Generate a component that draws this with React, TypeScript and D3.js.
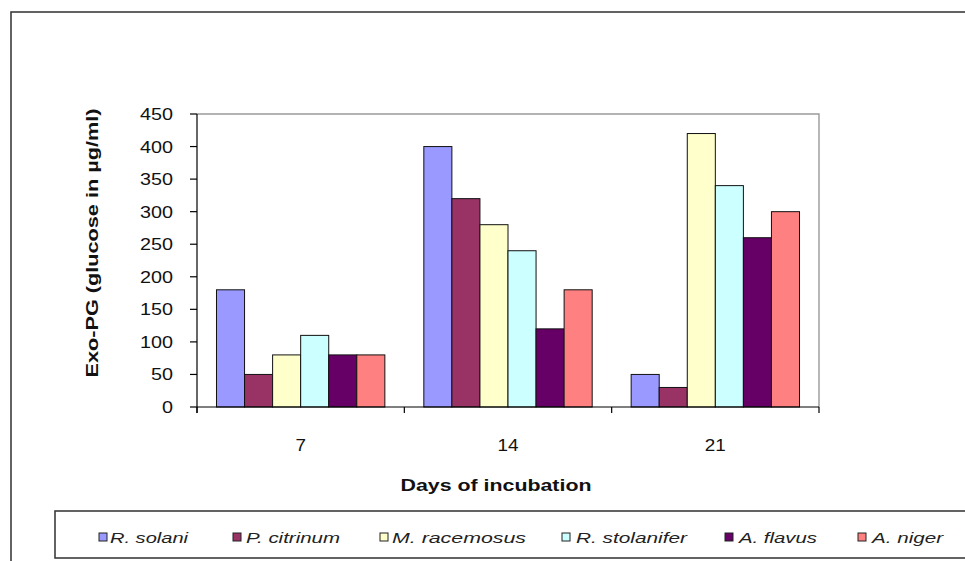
import React from "react";
import * as d3 from "d3";

const categories = ["7", "14", "21"];
const seriesNames = ["R. solani", "P. citrinum", "M. racemosus", "R. stolanifer", "A. flavus", "A. niger"];
const seriesColors = ["#9999FF", "#993366", "#FFFFCC", "#CCFFFF", "#660066", "#FF8080"];
const rSolani = [180, 400, 50];
const pCitrinum = [50, 320, 30];
const mRacemosus = [80, 280, 420];
const rStolanifer = [110, 240, 340];
const aFlavus = [80, 120, 260];
const aNiger = [80, 180, 300];
const seriesValues = [rSolani, pCitrinum, mRacemosus, rStolanifer, aFlavus, aNiger];
const yTicks = [0, 50, 100, 150, 200, 250, 300, 350, 400, 450];

const legendSquareX = [99, 233, 380, 562, 725, 858];
const legendTextX = [110, 246, 392, 576, 739, 872];
const legendTextW = [78, 94, 134, 111, 78, 71];

export default function App() {
  const W = 965, H = 561;
  const left = 197, right = 819, top = 114, bottom = 407;
  const x0 = d3.scaleBand<string>().domain(categories).range([left, right]).paddingInner(0.188).paddingOuter(0.094);
  const x1 = d3.scaleBand<string>().domain(seriesNames).range([0, x0.bandwidth()]);
  const y = d3.scaleLinear().domain([0, 450]).range([bottom, top]);
  const step = (right - left) / categories.length;
  const font = "Arial, 'Liberation Sans', sans-serif";

  return (
    <svg width={W} height={H} style={{ position: "absolute", left: 0, top: 0, background: "#fff" }} fontFamily={font}>
      <rect x={0} y={0} width={W} height={H} fill="#fff" />
      {/* outer chart frame */}
      <rect x={11} y={12} width={W + 20} height={H + 20} fill="none" stroke="#3c3c3c" strokeWidth={1.6} />
      {/* plot area border */}
      <path d={`M${left},${top}H${right}V${bottom}`} fill="none" stroke="#9a9a9a" strokeWidth={1.4} />
      {/* bars */}
      {categories.map((c, ci) => (
        <g key={c}>
          {seriesNames.map((s, si) => {
            const v = seriesValues[si][ci];
            const bx = (x0(c) as number) + (x1(s) as number);
            return (
              <rect key={s} x={bx} y={y(v)} width={x1.bandwidth()} height={y(0) - y(v)}
                fill={seriesColors[si]} stroke="#111" strokeWidth={1} />
            );
          })}
        </g>
      ))}
      {/* axes */}
      <line x1={left} y1={top} x2={left} y2={bottom + 6} stroke="#000" strokeWidth={1.2} />
      <line x1={left} y1={bottom} x2={right} y2={bottom} stroke="#000" strokeWidth={1.2} />
      {yTicks.map((t) => (
        <g key={t}>
          <line x1={left - 7} x2={left} y1={y(t)} y2={y(t)} stroke="#000" strokeWidth={1.2} />
          <text x={173} y={y(t) + 6} textAnchor="end" fontSize={17} fill="#111"
            textLength={String(t).length * 11} lengthAdjust="spacingAndGlyphs">{t}</text>
        </g>
      ))}
      {d3.range(categories.length + 1).map((i) => (
        <line key={i} x1={left + i * step} x2={left + i * step} y1={bottom} y2={bottom + 6} stroke="#000" strokeWidth={1.2} />
      ))}
      {categories.map((c) => (
        <text key={c} x={(x0(c) as number) + x0.bandwidth() / 2} y={451} textAnchor="middle" fontSize={17} fill="#111"
          textLength={c.length * 10.5} lengthAdjust="spacingAndGlyphs">{c}</text>
      ))}
      <text x={496} y={491} textAnchor="middle" fontSize={17} fontWeight="bold" fill="#111"
        textLength={191} lengthAdjust="spacingAndGlyphs">Days of incubation</text>
      <text transform="translate(98,243) rotate(-90)" textAnchor="middle" fontSize={17} fontWeight="bold" fill="#111"
        textLength={269} lengthAdjust="spacingAndGlyphs">Exo-PG (glucose in µg/ml)</text>
      {/* legend */}
      <rect x={55} y={511} width={W} height={47} fill="#fff" stroke="#3c3c3c" strokeWidth={1.6} />
      {seriesNames.map((s, i) => (
        <g key={s}>
          <rect x={legendSquareX[i]} y={533} width={8} height={8} fill={seriesColors[i]} stroke="#222" strokeWidth={1} />
          <text x={legendTextX[i]} y={543} fontSize={15} fontStyle="italic" fill="#222"
            textLength={legendTextW[i]} lengthAdjust="spacingAndGlyphs">{s}</text>
        </g>
      ))}
    </svg>
  );
}
